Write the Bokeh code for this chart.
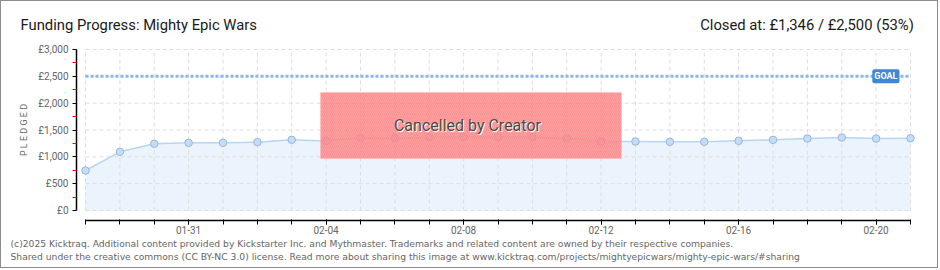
import pandas as pd
from bokeh.plotting import figure
from bokeh.models import Range1d, FixedTicker, DatetimeTickFormatter, Label, BoxAnnotation, ColumnDataSource
from bokeh.embed import file_html
from bokeh.resources import INLINE

# ---------------- data ----------------
title_text = "Funding Progress: Mighty Epic Wars"
status_text = "Closed at:  £1,346 / £2,500 (53%)"
dates = ["2025-01-28", "2025-01-29", "2025-01-30", "2025-01-31", "2025-02-01",
         "2025-02-02", "2025-02-03", "2025-02-04", "2025-02-05", "2025-02-06",
         "2025-02-07", "2025-02-08", "2025-02-09", "2025-02-10", "2025-02-11",
         "2025-02-12", "2025-02-13", "2025-02-14", "2025-02-15", "2025-02-16",
         "2025-02-17", "2025-02-18", "2025-02-19", "2025-02-20", "2025-02-21"]
pledged = [745, 1094, 1243, 1261, 1261, 1273, 1317, 1295, 1354, 1347,
           1366, 1366, 1366, 1366, 1347, 1286, 1286, 1280, 1280, 1298,
           1317, 1341, 1360, 1341, 1346]
goal = 2500
y_ticks = [0, 500, 1000, 1500, 2000, 2500, 3000]
y_minor_ticks = [250, 750, 1250, 1750, 2250, 2750]
x_label_dates = ["2025-01-31", "2025-02-04", "2025-02-08", "2025-02-12",
                 "2025-02-16", "2025-02-20"]
cancel_text = "Cancelled by Creator"
cancel_box = {"left": "2025-02-03 20:05", "right": "2025-02-12 14:10",
              "top": 2200, "bottom": 970}
cancel_text_pos = ("2025-02-08 02:40", 1590)
goal_label_x = "2025-02-19 21:20"
footer_lines = [
    "(c)2025 Kicktraq. Additional content provided by Kickstarter Inc. and Mythmaster. Trademarks and related content are owned by their respective companies.",
    "Shared under the creative commons (CC BY-NC 3.0) license. Read more about sharing this image at www.kicktraq.com/projects/mightyepicwars/mighty-epic-wars/#sharing",
]

# ---------------- helpers ----------------
EPOCH = pd.Timestamp("1970-01-01")
DAY = 86400000.0
PX_DAY = 34.375          # pixels per day
PX_VAL = 3000 / 161.0    # value units per pixel


def ms(s):
    return (pd.Timestamp(s) - EPOCH) / pd.Timedelta("1ms")


t = pd.to_datetime(dates)
t_ms = [ms(d) for d in dates]
src = ColumnDataSource(dict(date=t, pledged=pledged))

W, H = 938, 268
# frame fills the whole canvas; page x=85 <-> first date, page y=210 <-> 0
x_start = t_ms[0] - (85 - 1) / PX_DAY * DAY
x_end = t_ms[0] + (939 - 85) / PX_DAY * DAY
y_end = (210 - 1) * PX_VAL
y_start = -(269 - 210) * PX_VAL

p = figure(width=W, height=H, x_axis_type="datetime", output_backend="svg",
           toolbar_location=None, tools="",
           min_border=0,
           x_range=Range1d(x_start, x_end), y_range=Range1d(y_start, y_end),
           background_fill_color="white", border_fill_color="white")
p.styles = {"border": "1px solid #8c8c8c"}
p.outline_line_color = None
p.xgrid.visible = False
p.ygrid.visible = False

# area + grid
p.varea(x="date", y1=0, y2="pledged", source=src, fill_color="#ebf3fc")
grid_kw = dict(line_color="#dedede", line_width=1, line_dash="4 3")
p.segment(x0=t, y0=[y_ticks[0]] * len(t), x1=t, y1=[y_ticks[-1]] * len(t), **grid_kw)
p.segment(x0=[t[0]] * len(y_ticks), y0=y_ticks, x1=[t[-1]] * len(y_ticks), y1=y_ticks, **grid_kw)

# goal line
p.line(x=[t[0], t[-1]], y=[goal, goal], line_color="#8fb7e6", line_width=3, line_dash="3 2")

# series
p.line(x="date", y="pledged", source=src, line_color="#b8d5f2", line_width=1.5)
p.scatter(x="date", y="pledged", source=src, size=7.5, fill_color="#c4ddf7", line_color="#98b6dc", line_width=1)

# axes (offset from the plot area)
xa = p.xaxis[0]
xa.fixed_location = -10 * PX_VAL
xa.bounds = (t_ms[0], t_ms[-1])
xa.ticker = FixedTicker(ticks=[ms(d) for d in x_label_dates], minor_ticks=t_ms)
xa.formatter = DatetimeTickFormatter(days="%m-%d", months="%m-%d", hours="%m-%d")
xa.axis_line_color = "black"
xa.axis_line_width = 1.5
xa.major_tick_line_color = "black"
xa.minor_tick_line_color = "black"
xa.major_tick_out = 4
xa.major_tick_in = 1
xa.minor_tick_out = 4
xa.minor_tick_in = 1
xa.major_label_standoff = 1
xa.major_label_text_font = "Roboto"
xa.major_label_text_font_size = "10px"
xa.major_label_text_color = "#666666"

ya = p.yaxis[0]
ya.fixed_location = t_ms[0] - 9 / PX_DAY * DAY
ya.bounds = (y_ticks[0], y_ticks[-1])
ya.ticker = FixedTicker(ticks=y_ticks, minor_ticks=y_minor_ticks)
ya.major_label_overrides = {v: f"£{v:,}" for v in y_ticks}
ya.axis_line_color = "black"
ya.axis_line_width = 1.5
ya.major_tick_line_color = "black"
ya.minor_tick_line_color = "red"
ya.major_tick_out = 4
ya.major_tick_in = 0
ya.minor_tick_out = 4
ya.minor_tick_in = 0
ya.major_label_standoff = 4
ya.major_label_text_font = "Roboto"
ya.major_label_text_font_size = "10px"
ya.major_label_text_color = "#666666"
ya.axis_label = "P L E D G E D"
ya.axis_label_text_font = "Roboto"
ya.axis_label_text_font_size = "9px"
ya.axis_label_text_font_style = "normal"
ya.axis_label_text_color = "#666666"
ya.axis_label_standoff = 6

# cancelled overlay
p.add_layout(BoxAnnotation(left=ms(cancel_box["left"]), right=ms(cancel_box["right"]),
                           top=cancel_box["top"], bottom=cancel_box["bottom"],
                           fill_color="#ff8a8a", fill_alpha=0.8,
                           line_color="#ffb0b0", line_width=1,
                           hatch_pattern="/", hatch_color="#ff6f6f", hatch_alpha=0.35,
                           hatch_scale=4, hatch_weight=1))
for dx, dy, col in [(1, -1, "white"), (0, 0, "#4a4a4a")]:
    p.add_layout(Label(x=ms(cancel_text_pos[0]), y=cancel_text_pos[1], text=cancel_text,
                       x_offset=dx, y_offset=dy,
                       text_align="center", text_baseline="middle",
                       text_font="Roboto", text_font_size="16px", text_color=col))

# goal label
p.add_layout(Label(x=ms(goal_label_x), y=goal, text="GOAL", text_align="left",
                   text_baseline="middle", text_font="Roboto", text_font_size="9px",
                   text_font_style="bold", text_color="white",
                   background_fill_color="#3f88d5", padding=2, border_radius=2))


# texts around the chart (screen units, frame = canvas, y measured up)
def sx(px):
    return px - 1


def sy(py):
    return 269 - py


p.add_layout(Label(x=sx(20), y=sy(24), x_units="screen", y_units="screen", text=title_text,
                   text_baseline="middle", text_font="Roboto", text_font_size="14.8px",
                   text_color="#1a1a1a"))
p.add_layout(Label(x=sx(917), y=sy(24), x_units="screen", y_units="screen", text=status_text,
                   text_align="right", text_baseline="middle", text_font="Roboto",
                   text_font_size="14.8px", text_color="#1a1a1a"))
for i, line in enumerate(footer_lines):
    p.add_layout(Label(x=sx(10), y=sy(243 + 13 * i), x_units="screen", y_units="screen",
                       text=line, text_baseline="middle", text_font="DejaVu Sans",
                       text_font_size="9.2px", text_color="#666666"))

open("out.html", "w").write(file_html(p, INLINE))
